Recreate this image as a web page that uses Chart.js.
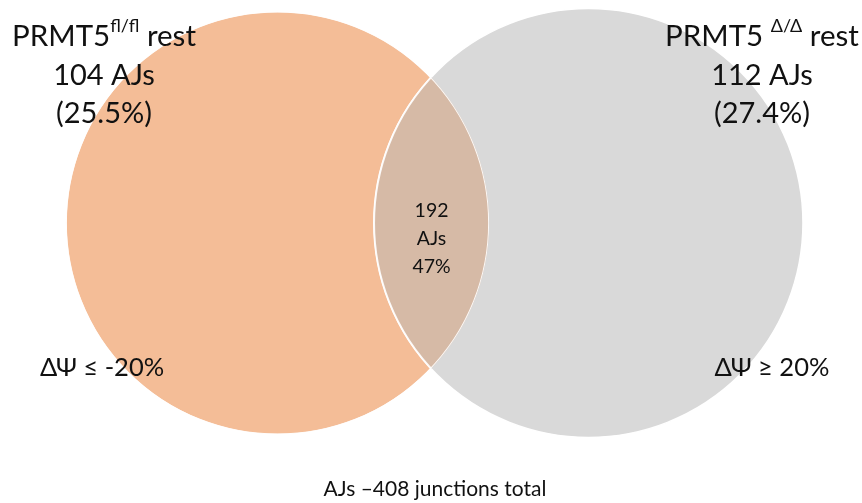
<!DOCTYPE html>
<html>
<head>
<meta charset="utf-8">
<script src="https://cdn.jsdelivr.net/npm/chart.js@4.4.1/dist/chart.umd.min.js"></script>
<style>
  html, body { margin: 0; padding: 0; background: #fff; }
  #venn { display: block; }
</style>
</head>
<body>
<canvas id="venn" width="862" height="503"></canvas>
<script>
// data
const groups = ['PRMT5 fl/fl rest', 'PRMT5 Δ/Δ rest'];
const onlyCounts = [104, 112];
const onlyPercents = ['25.5%', '27.4%'];
const sharedCount = 192;
const sharedPercent = '47%';
const thresholds = ['ΔΨ ≤ -20%', 'ΔΨ ≥ 20%'];
const totalCount = 408;

// layout (diagram units == canvas px)
const W = 862, H = 503;
const centerY = 223;
const midX = 433;
const gap = 311;          // distance between circle centres
const radiusScale = 12.3; // px per sqrt(AJ)
const colors = ['rgb(244,189,151)', 'rgb(217,217,217)'];
const overlapColor = 'rgb(214,186,166)';
const FONT = 'Lato, "Open Sans", sans-serif';

const totals = onlyCounts.map(v => v + sharedCount);
const radii = totals.map(t => Math.sqrt(t) * radiusScale);
const points = [
  { x: midX - gap / 2, y: centerY, r: radii[0] },
  { x: midX + gap / 2, y: centerY, r: radii[1] }
];

function circlePx(chart, i) {
  const xs = chart.scales.x, ys = chart.scales.y;
  return { x: xs.getPixelForValue(points[i].x), y: ys.getPixelForValue(points[i].y), r: points[i].r };
}

const vennPlugin = {
  id: 'venn',
  afterDatasetsDraw(chart) {
    const ctx = chart.ctx;
    const a = circlePx(chart, 0), b = circlePx(chart, 1);
    // overlap lens
    ctx.save();
    ctx.beginPath();
    ctx.arc(a.x, a.y, a.r, 0, Math.PI * 2);
    ctx.clip();
    ctx.beginPath();
    ctx.arc(b.x, b.y, b.r, 0, Math.PI * 2);
    ctx.fillStyle = overlapColor;
    ctx.fill();
    ctx.lineWidth = 2;
    ctx.strokeStyle = 'rgba(255,255,255,0.9)';
    ctx.stroke();
    ctx.beginPath();
    ctx.arc(a.x, a.y, a.r, 0, Math.PI * 2);
    ctx.stroke();
    ctx.restore();
  },
  afterDraw(chart) {
    const ctx = chart.ctx;
    const a = circlePx(chart, 0), b = circlePx(chart, 1);
    ctx.save();
    ctx.fillStyle = '#111';
    ctx.textBaseline = 'middle';

    // group titles with superscript
    function title(cx, cy, main, sup, rest) {
      const big = '29.5px ' + FONT, small = '18px ' + FONT;
      ctx.font = big;
      const w1 = ctx.measureText(main).width;
      const w3 = ctx.measureText(rest).width;
      ctx.font = small;
      const w2 = ctx.measureText(sup).width;
      let x = cx - (w1 + w2 + w3) / 2;
      ctx.textAlign = 'left';
      ctx.font = big;
      ctx.fillText(main, x, cy);
      x += w1;
      ctx.font = small;
      ctx.fillText(sup, x, cy - 10);
      x += w2;
      ctx.font = big;
      ctx.fillText(rest, x, cy);
    }
    title(104, 36, 'PRMT5', 'fl/fl', ' rest');
    title(762, 36, 'PRMT5 ', 'Δ/Δ', ' rest');

    ctx.textAlign = 'center';
    ctx.font = '29px ' + FONT;
    ctx.fillText(onlyCounts[0] + ' AJs', 104, 76);
    ctx.fillText('(' + onlyPercents[0] + ')', 104, 114);
    ctx.fillText(onlyCounts[1] + ' AJs', 762, 76);
    ctx.fillText('(' + onlyPercents[1] + ')', 762, 114);

    // shared
    const sx = (a.x + a.r + b.x - b.r) / 2;
    ctx.font = '19.5px ' + FONT;
    ctx.fillText(String(sharedCount), sx, 211);
    ctx.fillText('AJs', sx, 239);
    ctx.fillText(sharedPercent, sx, 267);

    // thresholds
    ctx.font = '25.5px ' + FONT;
    ctx.fillText(thresholds[0], 102, 368);
    ctx.fillText(thresholds[1], 772, 368);

    // footer
    ctx.font = '21px ' + FONT;
    ctx.fillText('AJs \u2013' + totalCount + ' junctions total', 435, 489);
    ctx.restore();
  }
};

new Chart(document.getElementById('venn'), {
  type: 'bubble',
  data: {
    labels: groups,
    datasets: [{
      data: points,
      backgroundColor: colors,
      hoverBackgroundColor: colors,
      borderColor: '#fff',
      borderWidth: 1.5,
      clip: false
    }]
  },
  options: {
    responsive: false,
    animation: false,
    events: [],
    layout: { padding: 0, autoPadding: false },
    plugins: { legend: { display: false }, tooltip: { enabled: false } },
    scales: {
      x: { type: 'linear', display: false, min: 0, max: W },
      y: { type: 'linear', display: false, min: 0, max: H, reverse: true }
    }
  },
  plugins: [vennPlugin]
});
</script>
</body>
</html>
